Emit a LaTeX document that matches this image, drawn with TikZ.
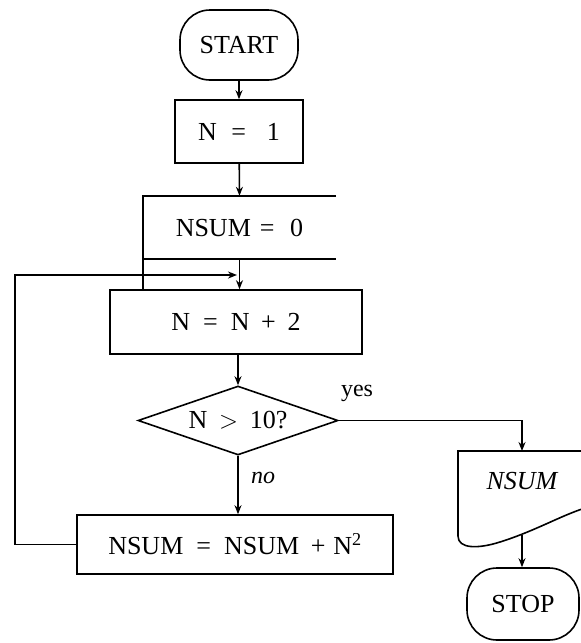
\documentclass[tikz,border=0pt]{standalone}
\usepackage{fontspec}
\setmainfont{Liberation Serif}
\usetikzlibrary{shapes.geometric,arrows.meta}
\begin{document}
\begin{tikzpicture}[x=1pt,y=-1pt,
  every node/.style={font=\fontsize{26}{30}\selectfont, inner sep=0pt},
  ln/.style={line width=1.6pt},
  box/.style={draw, ln, rectangle},
  term/.style={draw, ln, rectangle, rounded corners=30pt},
  arr/.style={ln, -{Stealth[length=9pt,width=7pt]}},
  small/.style={font=\fontsize{24}{28}\selectfont}]
\useasboundingbox (0,0) rectangle (581,643);
% nodes
\node[term, minimum width=118pt, minimum height=70pt] (start) at (239,45) {START};
\node[box, minimum width=128pt, minimum height=63pt] (n1) at (239,131.5) {N\hspace{0.55em}=\hspace{0.8em}1};
\node[minimum width=193pt, minimum height=63pt] (ns0) at (239.5,227.5) {NSUM\hspace{0.35em}=\hspace{0.6em}0};
\node[box, minimum width=252pt, minimum height=64pt] (n2) at (236,322) {N\hspace{0.5em}=\hspace{0.5em}N\hspace{0.45em}+\hspace{0.45em}2};
\node[diamond, draw, ln, minimum width=200pt, minimum height=69pt, aspect=2.9] (dec) at (238,420.5) {N\hspace{0.45em}$>$\hspace{0.45em}10?};
\node[box, minimum width=316pt, minimum height=59pt] (ns2) at (235,544.5) {NSUM\hspace{0.5em}=\hspace{0.5em}NSUM\hspace{0.45em}+\hspace{0.3em}N\textsuperscript{2}};
\node[font=\fontsize{26}{30}\selectfont\itshape] (out) at (522,481) {NSUM};
\node[term, minimum width=112pt, minimum height=72pt] (stop) at (523,604) {STOP};
\node[small] (yes) at (357,393) {yes};
\node[small, font=\fontsize{24}{28}\selectfont\itshape] (no) at (263,478) {no};
% NSUM = 0 open box
\draw[ln] (ns0.north east) -- (ns0.north west) -- (ns0.north west |- n2.north);
\draw[ln] (ns0.south west) -- (ns0.south east);
% output shape
\coordinate (outtop) at (522,451);
\coordinate (outbot) at (522,535);
\draw[ln] (585,451) -- (458,451) -- (458,536)
  .. controls (458,549) and (478,549) .. (500,542)
  .. controls (535,531) and (560,516) .. (585,508);
% connectors
\coordinate (join) at (237,275);
\draw[arr] (start) -- (n1);
\draw[arr] (n1) -- (ns0.north);
\draw[arr] (ns0.south) -- (ns0.south |- n2.north);
\draw[arr] (ns2.west) -- (15,544.5) -- (15,275) -- (join);
\draw[arr] (n2.south -| dec.north) -- (dec.north);
\draw[arr] (dec.south) -- (dec.south |- ns2.north);
\draw[arr] (dec.east) -- (dec.east -| outtop) -- (outtop);
\draw[arr] (outbot) -- (outbot |- stop.north);
\end{tikzpicture}
\end{document}
